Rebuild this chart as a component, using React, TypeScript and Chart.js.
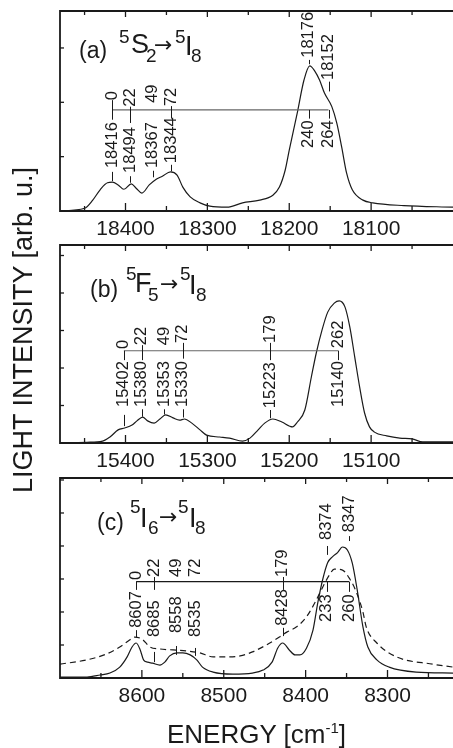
import React, { useEffect, useRef } from 'react';
import { Chart, registerables } from 'chart.js';

Chart.register(...registerables);

const FONT = '"Liberation Sans", Arial, Helvetica, sans-serif';
const ARROW_FONT = '"DejaVu Sans", "Liberation Sans", sans-serif';
Chart.defaults.font.family = FONT;

// ---------- Panel (a)  5S2 -> 5I8 ----------
const A_ENERGY = [18480, 18450, 18440, 18431, 18422, 18416, 18409, 18402, 18393, 18387, 18380, 18371, 18362, 18355, 18345, 18337, 18330, 18321, 18309, 18297, 18276, 18257, 18236, 18220, 18212, 18205, 18200, 18190, 18182, 18175, 18169, 18163, 18157, 18148, 18142, 18136, 18130, 18123, 18110, 18098, 18060, 18000];
const A_INTENSITY = [0.0, 0.05, 0.2, 0.39, 0.52, 0.53, 0.48, 0.4, 0.5, 0.42, 0.33, 0.48, 0.59, 0.64, 0.72, 0.66, 0.44, 0.26, 0.15, 0.09, 0.07, 0.15, 0.2, 0.29, 0.44, 0.75, 1.12, 1.82, 2.41, 2.67, 2.58, 2.41, 2.17, 1.92, 1.62, 1.18, 0.7, 0.39, 0.2, 0.15, 0.1, 0.07];
const A_RANGE = [18000, 18480];
const A_YMAX = 3.68;
const A_TICKS = [18400, 18300, 18200, 18100];
const A_MINOR = [18450, 18350, 18250, 18150, 18050];
const A_BRACKET: [number, number, number] = [18416, 18152, 1.86];
const A_LABELS: [number, string, number][] = [
  [18416, '0', 2.04], [18394, '22', 1.92], [18367, '49', 1.99], [18344, '72', 1.93],
  [18416, '18416', 0.79], [18394, '18494', 0.7], [18367, '18367', 0.79], [18344, '18344', 0.88],
  [18176, '18176', 2.82], [18152, '18152', 2.41], [18176, '240', 1.16], [18152, '264', 1.16],
];
const A_LEADERS: [number, number, number][] = [
  [18416, 2.04, 1.68], [18416, 0.72, 0.55], [18394, 1.92, 1.62], [18394, 0.64, 0.52],
  [18367, 0.74, 0.62], [18344, 1.93, 1.7], [18344, 0.85, 0.73], [18176, 2.78, 2.7],
  [18176, 1.86, 1.7], [18152, 2.38, 2.2], [18152, 1.86, 1.7],
];

// ---------- Panel (b)  5F5 -> 5I8 ----------
const B_ENERGY = [15480, 15447, 15428, 15419, 15409, 15401, 15392, 15386, 15379, 15373, 15365, 15358, 15351, 15342, 15334, 15328, 15319, 15309, 15301, 15285, 15273, 15257, 15248, 15238, 15230, 15220, 15209, 15196, 15190, 15181, 15173, 15167, 15160, 15153, 15145, 15139, 15132, 15126, 15120, 15114, 15108, 15102, 15096, 15081, 15065, 15050, 15037, 15000];
const B_INTENSITY = [0.0, 0.02, 0.05, 0.16, 0.35, 0.4, 0.48, 0.59, 0.69, 0.59, 0.53, 0.64, 0.75, 0.67, 0.61, 0.64, 0.53, 0.35, 0.21, 0.16, 0.13, 0.05, 0.13, 0.35, 0.53, 0.64, 0.56, 0.43, 0.56, 0.88, 1.76, 2.4, 3.01, 3.49, 3.73, 3.79, 3.63, 3.09, 2.29, 1.49, 0.8, 0.43, 0.29, 0.19, 0.13, 0.11, 0.03, 0.03];
const B_RANGE = [15000, 15480];
const B_YMAX = 5.28;
const B_TICKS = [15400, 15300, 15200, 15100];
const B_MINOR = [15450, 15350, 15250, 15150, 15050];
const B_BRACKET: [number, number, number] = [15402, 15140, 2.46];
const B_LABELS: [number, string, number][] = [
  [15402, '0', 2.51], [15380, '22', 2.61], [15353, '49', 2.61], [15330, '72', 2.67], [15223, '179', 2.67], [15140, '262', 2.53],
  [15402, '15402', 0.96], [15380, '15380', 0.96], [15353, '15353', 0.96], [15330, '15330', 0.96], [15223, '15223', 0.93], [15140, '15140', 0.96],
];
const B_LEADERS: [number, number, number][] = [
  [15402, 2.46, 2.21], [15402, 0.75, 0.45], [15380, 2.61, 2.21], [15380, 0.9, 0.7],
  [15353, 0.9, 0.76], [15330, 2.67, 2.25], [15330, 0.9, 0.68], [15223, 2.67, 2.21],
  [15223, 0.88, 0.66], [15140, 2.46, 2.21],
];

// ---------- Panel (c)  5I6 -> 5I8 ----------
const C_ENERGY = [8700, 8667, 8651, 8639, 8627, 8618, 8612, 8607, 8602, 8598, 8593, 8587, 8578, 8572, 8566, 8557, 8550, 8541, 8533, 8526, 8513, 8489, 8465, 8452, 8441, 8434, 8428, 8420, 8413, 8407, 8399, 8391, 8385, 8379, 8373, 8367, 8361, 8355, 8349, 8343, 8337, 8330, 8324, 8313, 8298, 8265, 8220];
const C_SOLID = [0.03, 0.03, 0.09, 0.15, 0.33, 0.64, 0.94, 1.06, 0.85, 0.55, 0.48, 0.45, 0.39, 0.48, 0.67, 0.76, 0.76, 0.7, 0.55, 0.33, 0.18, 0.12, 0.15, 0.24, 0.48, 0.91, 1.06, 0.85, 0.7, 0.7, 0.9, 1.45, 2.3, 3.0, 3.5, 3.68, 3.8, 3.97, 3.88, 3.48, 2.67, 1.55, 0.94, 0.55, 0.33, 0.18, 0.15];
const C_DASH_ENERGY = [8700, 8667, 8643, 8627, 8615, 8609, 8600, 8590, 8578, 8562, 8545, 8529, 8513, 8496, 8480, 8465, 8448, 8432, 8423, 8411, 8399, 8387, 8379, 8371, 8365, 8355, 8346, 8338, 8330, 8326, 8313, 8289, 8245, 8220];
const C_DASHED = [0.42, 0.55, 0.73, 0.94, 1.15, 1.24, 1.18, 0.94, 0.88, 0.85, 0.82, 0.76, 0.64, 0.64, 0.67, 0.79, 1.0, 1.24, 1.39, 1.55, 1.85, 2.36, 2.76, 3.12, 3.3, 3.27, 3.0, 2.6, 2.0, 1.55, 1.06, 0.64, 0.42, 0.33];
const C_RANGE = [8220, 8700];
const C_YMAX = 6.06;
const C_TICKS = [8600, 8500, 8400, 8300];
const C_MINOR = [8650, 8550, 8450, 8350, 8250];
const C_BRACKET: [number, number, number] = [8607, 8347, 2.92];
const C_LABELS: [number, string, number][] = [
  [8607, '0', 2.97], [8585, '22', 3.06], [8558, '49', 3.06], [8535, '72', 3.06], [8428, '179', 3.06],
  [8607, '8607', 1.52], [8585, '8685', 1.24], [8558, '8558', 1.36], [8535, '8535', 1.24], [8428, '8428', 1.58],
  [8374, '233', 1.7], [8347, '260', 1.7], [8374, '8374', 4.18], [8347, '8347', 4.42],
];
const C_LEADERS: [number, number, number][] = [
  [8607, 2.92, 2.67], [8607, 1.45, 1.24], [8585, 3.06, 2.67], [8585, 0.79, 0.48],
  [8558, 0.97, 0.7], [8535, 0.91, 0.67], [8428, 3.06, 2.67], [8428, 1.52, 1.27],
  [8374, 2.92, 2.61], [8374, 4.0, 3.73], [8347, 2.92, 2.61], [8347, 4.3, 4.15],
];

// panel titles: [text, fontSize, dx, dy]
const A_TITLE: [string, number, number, number][] = [
  ['(a)', 23, 0, 0], ['5', 19, 40, -15], ['S', 27, 52, -5], ['2', 19, 67, 4],
  ['\u2192', 22, 75, -6], ['5', 19, 96, -15], ['I', 27, 106, -3], ['8', 19, 112, 4],
];
const B_TITLE: [string, number, number, number][] = [
  ['(b)', 23, 0, 0], ['5', 19, 36, -17], ['F', 27, 45, -5], ['5', 19, 58, 4],
  ['\u2192', 22, 70, -6], ['5', 19, 90, -17], ['I', 27, 99, -3], ['8', 19, 106, 4],
];
const C_TITLE: [string, number, number, number][] = [
  ['(c)', 23, 0, 0], ['5', 19, 33, -17], ['I', 27, 43, -3], ['6', 19, 51, 4],
  ['\u2192', 22, 62, -6], ['5', 19, 81, -17], ['I', 27, 92, -3], ['8', 19, 98, 4],
];

const INK = '#1a1a1a';

type Panel = {
  series: { e: number[]; v: number[]; dashed?: boolean }[];
  range: number[];
  ymax: number;
  ticks: number[];
  minor: number[];
  bracket: [number, number, number];
  bracketColor: string;
  labels: [number, string, number][];
  leaders: [number, number, number][];
  title: [string, number, number, number][];
  titlePos: [number, number];
  padBottom: number;
};

function overlay(p: Panel) {
  return {
    id: 'overlay',
    afterDraw(chart: any) {
      const ctx: CanvasRenderingContext2D = chart.ctx;
      const { left, right, top, bottom } = chart.chartArea;
      const xs = chart.scales.x;
      const ys = chart.scales.y;
      const seg = (x1: number, y1: number, x2: number, y2: number) => {
        ctx.beginPath();
        ctx.moveTo(x1, y1);
        ctx.lineTo(x2, y2);
        ctx.stroke();
      };
      ctx.save();
      // frame
      ctx.strokeStyle = INK;
      ctx.lineWidth = 1.8;
      ctx.beginPath();
      ctx.moveTo(right + 2, top);
      ctx.lineTo(left, top);
      ctx.lineTo(left, bottom);
      ctx.lineTo(right + 2, bottom);
      ctx.stroke();
      // x ticks (inward)
      ctx.lineWidth = 1.3;
      for (const v of p.ticks) {
        const px = xs.getPixelForValue(v);
        seg(px, bottom, px, bottom - 8);
        seg(px, top, px, top + 6);
      }
      for (const v of p.minor) {
        const px = xs.getPixelForValue(v);
        seg(px, bottom, px, bottom - 5);
        seg(px, top, px, top + 4);
      }
      // y ticks
      for (let v = 1; v < p.ymax; v++) {
        const py = ys.getPixelForValue(v);
        seg(left, py, left + 4, py);
      }
      // bracket
      ctx.strokeStyle = p.bracketColor;
      ctx.lineWidth = 1.2;
      const [b1, b2, bl] = p.bracket;
      const by = ys.getPixelForValue(bl);
      seg(xs.getPixelForValue(b1), by, xs.getPixelForValue(b2), by);
      // leaders
      ctx.strokeStyle = INK;
      ctx.lineWidth = 1;
      for (const [e, y1, y2] of p.leaders) {
        const px = Math.round(xs.getPixelForValue(e)) + 0.5;
        seg(px, ys.getPixelForValue(y1), px, ys.getPixelForValue(y2));
      }
      // rotated labels
      ctx.fillStyle = INK;
      ctx.font = `16.5px ${FONT}`;
      ctx.textAlign = 'left';
      ctx.textBaseline = 'middle';
      for (const [e, t, y0] of p.labels) {
        ctx.save();
        ctx.translate(xs.getPixelForValue(e), ys.getPixelForValue(y0));
        ctx.rotate(-Math.PI / 2);
        ctx.fillText(t, 0, 0);
        ctx.restore();
      }
      // title
      ctx.textBaseline = 'alphabetic';
      const x0 = left + p.titlePos[0];
      const y0 = top + p.titlePos[1];
      for (const [t, size, dx, dy] of p.title) {
        ctx.font = `${size}px ${t === '\u2192' ? ARROW_FONT : FONT}`;
        ctx.fillText(t, x0 + dx, y0 + dy);
      }
      ctx.restore();
    },
  };
}

function makeChart(canvas: HTMLCanvasElement, p: Panel) {
  return new Chart(canvas, {
    type: 'line',
    data: {
      datasets: p.series.map((s) => ({
        data: s.e.map((e, i) => ({ x: e, y: s.v[i] })),
        borderColor: INK,
        borderWidth: 1.2,
        borderDash: s.dashed ? [6, 4] : [],
        pointRadius: 0,
        fill: false,
        cubicInterpolationMode: 'monotone' as const,
      })),
    },
    options: {
      responsive: false,
      animation: false,
      events: [],
      layout: { padding: { left: 60, right: 0, top: 11, bottom: p.padBottom } },
      plugins: { legend: { display: false }, tooltip: { enabled: false } },
      scales: {
        x: {
          type: 'linear',
          min: p.range[0],
          max: p.range[1],
          reverse: true,
          grid: { display: false, drawTicks: false },
          border: { display: false },
          afterBuildTicks: (s: any) => {
            s.ticks = p.ticks.map((v) => ({ value: v }));
          },
          ticks: {
            font: { size: 21, family: FONT },
            color: INK,
            padding: 6,
            maxRotation: 0,
            autoSkip: false,
            callback: (v: any) => String(v),
          },
        },
        y: { display: false, min: 0, max: p.ymax },
      },
    } as any,
    plugins: [overlay(p)],
  });
}

const PANELS: Panel[] = [
  {
    series: [{ e: A_ENERGY, v: A_INTENSITY }],
    range: A_RANGE, ymax: A_YMAX, ticks: A_TICKS, minor: A_MINOR,
    bracket: A_BRACKET, bracketColor: '#666', labels: A_LABELS, leaders: A_LEADERS,
    title: A_TITLE, titlePos: [19, 47], padBottom: 1.8,
  },
  {
    series: [{ e: B_ENERGY, v: B_INTENSITY }],
    range: B_RANGE, ymax: B_YMAX, ticks: B_TICKS, minor: B_MINOR,
    bracket: B_BRACKET, bracketColor: '#666', labels: B_LABELS, leaders: B_LEADERS,
    title: B_TITLE, titlePos: [30, 52], padBottom: 3.8,
  },
  {
    series: [{ e: C_ENERGY, v: C_SOLID }, { e: C_DASH_ENERGY, v: C_DASHED, dashed: true }],
    range: C_RANGE, ymax: C_YMAX, ticks: C_TICKS, minor: C_MINOR,
    bracket: C_BRACKET, bracketColor: INK, labels: C_LABELS, leaders: C_LEADERS,
    title: C_TITLE, titlePos: [37, 52], padBottom: 1.8,
  },
];

const CANVAS_TOPS = [0, 234, 467];

export default function App() {
  const refs = [useRef<HTMLCanvasElement>(null), useRef<HTMLCanvasElement>(null), useRef<HTMLCanvasElement>(null)];
  useEffect(() => {
    const charts = PANELS.map((p, i) => makeChart(refs[i].current as HTMLCanvasElement, p));
    return () => charts.forEach((c) => c.destroy());
  }, []);
  return (
    <div style={{ position: 'absolute', left: 0, top: 0, width: 453, height: 748, overflow: 'hidden', background: '#fff', fontFamily: FONT, color: INK }}>
      {PANELS.map((_, i) => (
        <canvas key={i} ref={refs[i]} width={453} height={250}
          style={{ position: 'absolute', left: 0, top: CANVAS_TOPS[i], width: 453, height: 250 }} />
      ))}
      <div style={{ position: 'absolute', left: 23 - 200, top: 330 - 15, width: 400, height: 30, lineHeight: '30px', fontSize: 27, textAlign: 'center', whiteSpace: 'nowrap', transform: 'rotate(-90deg)' }}>
        LIGHT INTENSITY [arb. u.]
      </div>
      <div style={{ position: 'absolute', left: 60, top: 721, width: 393, lineHeight: '26px', fontSize: 26, textAlign: 'center', whiteSpace: 'nowrap' }}>
        ENERGY [cm<span style={{ fontSize: 15, position: 'relative', top: -10 }}>-1</span>]
      </div>
    </div>
  );
}
